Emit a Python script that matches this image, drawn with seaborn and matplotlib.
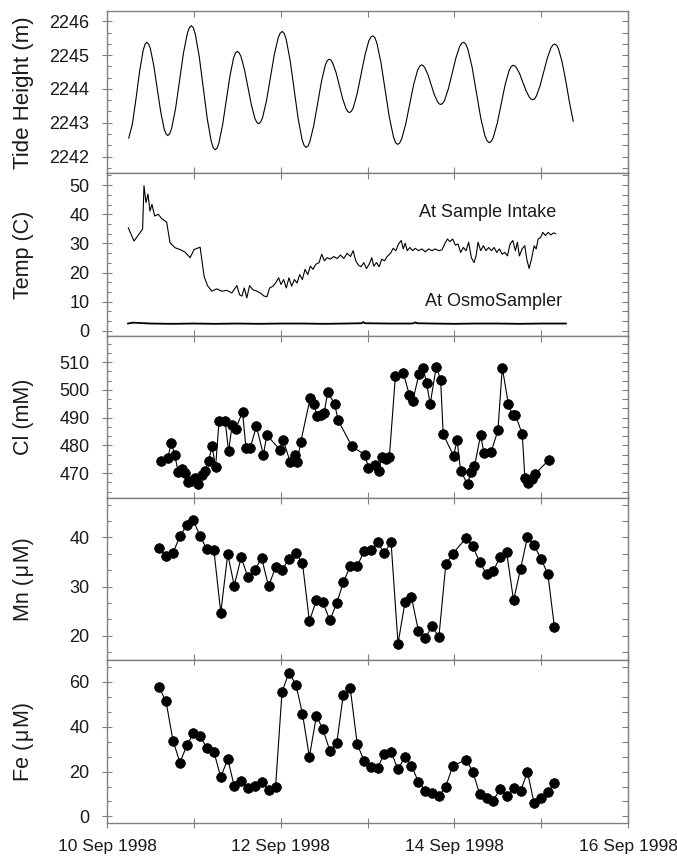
import numpy as np
import pandas as pd
import matplotlib
matplotlib.use("Agg")
import matplotlib.pyplot as plt
import matplotlib.dates as mdates
from matplotlib.ticker import MultipleLocator, AutoMinorLocator, NullFormatter
import seaborn as sns

start = pd.Timestamp("1998-09-10")

# tide height, hours after 10 Sep 00:00
tide_hour = [6.0, 7.0, 8.0, 9.0, 10.0, 10.55, 11.0, 11.48,
             11.97, 12.93, 13.9, 14.87, 15.83, 16.32, 16.8, 17.34,
             17.88, 18.97, 20.05, 21.13, 22.22, 22.76, 23.3, 23.85,
             24.4, 25.5, 26.6, 27.7, 28.8, 29.35, 29.9, 30.41,
             30.92, 31.93, 32.95, 33.97, 34.98, 35.49, 36.0, 36.49,
             36.98, 37.97, 38.95, 39.93, 40.92, 41.41, 41.9, 42.44,
             42.98, 44.07, 45.15, 46.23, 47.32, 47.86, 48.4, 48.95,
             49.5, 50.6, 51.7, 52.8, 53.9, 54.45, 55.0, 55.53,
             56.07, 57.13, 58.2, 59.27, 60.33, 60.87, 61.4, 61.87,
             62.33, 63.27, 64.2, 65.13, 66.07, 66.53, 67.0, 67.53,
             68.07, 69.13, 70.2, 71.27, 72.33, 72.87, 73.4, 73.98,
             74.55, 75.7, 76.85, 78.0, 79.15, 79.73, 80.3, 80.85,
             81.4, 82.5, 83.6, 84.7, 85.8, 86.35, 86.9, 87.34,
             87.78, 88.67, 89.55, 90.43, 91.32, 91.76, 92.2, 92.73,
             93.25, 94.3, 95.35, 96.4, 97.45, 97.98, 98.5, 99.09,
             99.68, 100.87, 102.05, 103.23, 104.42, 105.01, 105.6, 106.15,
             106.7, 107.8, 108.9, 110.0, 111.1, 111.65, 112.2, 112.65,
             113.1, 114.0, 114.9, 115.8, 116.7, 117.15, 117.6, 118.11,
             118.62, 119.63, 120.65, 121.67, 122.68, 123.19, 123.7, 124.28,
             124.7, 125.7, 126.7, 127.7, 128.8]
tide_m = [2242.54, 2242.95, 2243.69, 2244.51, 2245.14, 2245.33, 2245.38, 2245.33,
          2245.20, 2244.69, 2244.00, 2243.31, 2242.80, 2242.67, 2242.62, 2242.68,
          2242.84, 2243.43, 2244.25, 2245.06, 2245.65, 2245.81, 2245.87, 2245.81,
          2245.62, 2244.95, 2244.04, 2243.12, 2242.45, 2242.26, 2242.20, 2242.25,
          2242.40, 2242.93, 2243.66, 2244.38, 2244.92, 2245.06, 2245.11, 2245.07,
          2244.97, 2244.58, 2244.04, 2243.51, 2243.11, 2243.01, 2242.97, 2243.02,
          2243.15, 2243.65, 2244.34, 2245.02, 2245.52, 2245.65, 2245.70, 2245.64,
          2245.47, 2244.84, 2243.99, 2243.13, 2242.50, 2242.33, 2242.27, 2242.31,
          2242.45, 2242.92, 2243.58, 2244.23, 2244.71, 2244.84, 2244.88, 2244.85,
          2244.77, 2244.49, 2244.09, 2243.70, 2243.41, 2243.33, 2243.30, 2243.34,
          2243.45, 2243.87, 2244.44, 2245.00, 2245.42, 2245.53, 2245.57, 2245.52,
          2245.36, 2244.77, 2243.97, 2243.16, 2242.58, 2242.41, 2242.36, 2242.40,
          2242.52, 2242.95, 2243.54, 2244.12, 2244.55, 2244.67, 2244.71, 2244.69,
          2244.63, 2244.42, 2244.13, 2243.83, 2243.62, 2243.56, 2243.54, 2243.57,
          2243.66, 2244.00, 2244.46, 2244.92, 2245.26, 2245.35, 2245.38, 2245.33,
          2245.18, 2244.64, 2243.90, 2243.15, 2242.61, 2242.46, 2242.41, 2242.45,
          2242.56, 2242.98, 2243.56, 2244.13, 2244.55, 2244.66, 2244.70, 2244.68,
          2244.63, 2244.45, 2244.19, 2243.94, 2243.75, 2243.70, 2243.68, 2243.71,
          2243.79, 2244.09, 2244.51, 2244.92, 2245.22, 2245.30, 2245.33, 2245.28,
          2245.19, 2244.81, 2244.26, 2243.64, 2243.04]

# temperature, days after 10 Sep 00:00
temp_day = [0.245, 0.311, 0.38, 0.41, 0.426, 0.449, 0.472, 0.495, 0.518, 0.549,
            0.591, 0.63, 0.668, 0.687, 0.726, 0.784, 0.841, 0.899, 0.957, 1.003,
            1.072, 1.091, 1.118, 1.157, 1.207, 1.264, 1.322, 1.38, 1.437, 1.495,
            1.526, 1.553, 1.58, 1.61, 1.641, 1.68, 1.726, 1.764, 1.81, 1.841,
            1.872, 1.91, 1.941, 1.976, 2.003, 2.034, 2.064, 2.095, 2.126, 2.157,
            2.188, 2.218, 2.249, 2.28, 2.311, 2.341, 2.372, 2.403, 2.441, 2.472,
            2.503, 2.533, 2.572, 2.61, 2.649, 2.687, 2.726, 2.764, 2.803, 2.833,
            2.864, 2.895, 2.925, 2.956, 2.987, 3.017, 3.048, 3.071, 3.102, 3.133,
            3.163, 3.194, 3.225, 3.264, 3.294, 3.325, 3.356, 3.387, 3.41, 3.433,
            3.456, 3.487, 3.518, 3.548, 3.587, 3.625, 3.664, 3.702, 3.741, 3.779,
            3.818, 3.856, 3.887, 3.918, 3.948, 3.979, 4.01, 4.04, 4.071, 4.102,
            4.133, 4.163, 4.194, 4.225, 4.248, 4.271, 4.302, 4.333, 4.363, 4.394,
            4.425, 4.456, 4.486, 4.517, 4.548, 4.579, 4.609, 4.64, 4.671, 4.701,
            4.724, 4.747, 4.778, 4.809, 4.832, 4.859, 4.886, 4.917, 4.94, 4.963,
            4.993, 5.016, 5.047, 5.078, 5.109, 5.139, 5.166]
temp_intake = [35.4, 30.8, 33.7, 34.9, 49.8, 44.0, 46.9, 41.1, 43.4, 39.4,
               40.0, 38.5, 37.7, 37.3, 30.2, 28.5, 27.9, 27.0, 25.1, 27.9,
               28.7, 24.5, 18.7, 15.5, 13.6, 14.4, 13.6, 13.9, 13.0, 15.5,
               12.4, 11.9, 14.7, 11.3, 15.5, 14.1, 13.6, 13.0, 11.9, 11.7,
               14.7, 15.3, 16.4, 18.2, 15.9, 17.6, 14.7, 18.2, 15.3, 17.6,
               16.4, 19.3, 17.6, 21.1, 19.3, 22.2, 21.1, 22.8, 23.4, 26.3,
               24.0, 25.1, 24.6, 25.5, 24.8, 26.0, 24.8, 26.6, 25.5, 27.5,
               24.0, 22.5, 22.0, 23.4, 21.4, 22.8, 25.1, 22.2, 23.4, 22.0,
               24.6, 24.0, 25.5, 26.6, 28.3, 27.5, 29.8, 31.0, 28.1, 30.1,
               27.5, 28.6, 27.5, 28.3, 27.5, 28.1, 27.1, 28.1, 27.5, 28.1,
               27.5, 27.8, 29.8, 31.5, 30.6, 31.5, 29.4, 29.8, 26.9, 28.6,
               27.5, 30.4, 25.1, 23.4, 25.7, 30.4, 27.5, 29.2, 27.5, 28.6,
               27.5, 28.6, 26.9, 28.1, 26.3, 26.9, 25.7, 29.8, 31.0, 27.5,
               30.4, 25.7, 28.1, 29.2, 24.6, 21.4, 24.6, 29.2, 28.1, 31.5,
               32.1, 33.8, 32.7, 33.8, 32.9, 33.6, 33.3]
osmo_day = [0.24, 0.3, 0.5, 0.75, 1.0, 1.25, 1.5, 1.75, 2.0, 2.25, 2.5, 2.75,
            2.93, 2.95, 2.97, 3.25, 3.5, 3.53, 3.55, 3.57, 3.75, 4.0, 4.25,
            4.5, 4.75, 5.0, 5.285]
temp_osmo = [2.5, 2.8, 2.5, 2.4, 2.5, 2.4, 2.5, 2.4, 2.5, 2.5, 2.4, 2.5,
             2.6, 3.0, 2.6, 2.5, 2.5, 2.6, 2.9, 2.6, 2.5, 2.4, 2.5,
             2.5, 2.4, 2.5, 2.5]

# chloride
cl_day = [0.62, 0.70, 0.74, 0.78, 0.82, 0.86, 0.90, 0.93, 0.97, 1.01,
          1.05, 1.09, 1.13, 1.17, 1.21, 1.25, 1.29, 1.36, 1.40, 1.44,
          1.48, 1.56, 1.60, 1.65, 1.72, 1.80, 1.84, 1.99, 2.03, 2.11,
          2.16, 2.19, 2.23, 2.34, 2.38, 2.42, 2.46, 2.50, 2.54, 2.62,
          2.66, 2.82, 2.97, 3.01, 3.08, 3.13, 3.16, 3.21, 3.25, 3.32,
          3.41, 3.48, 3.52, 3.59, 3.64, 3.68, 3.72, 3.79, 3.84, 3.87,
          3.99, 4.03, 4.07, 4.15, 4.19, 4.23, 4.30, 4.34, 4.42, 4.50,
          4.55, 4.62, 4.67, 4.70, 4.78, 4.81, 4.85, 4.89, 4.93, 5.09]
cl_mm = [474.3, 475.4, 480.9, 476.6, 470.4, 471.5, 470.0, 466.8, 467.0, 468.3,
         465.9, 469.2, 470.9, 474.5, 479.7, 472.1, 488.7, 488.9, 477.8, 487.3,
         485.9, 492.0, 479.2, 479.2, 486.9, 476.6, 483.7, 478.5, 481.8, 473.9,
         476.6, 474.1, 481.2, 497.1, 494.9, 490.6, 490.8, 491.8, 499.1, 495.0,
         489.1, 479.6, 476.6, 471.7, 473.1, 470.9, 475.9, 475.1, 475.7, 505.0,
         506.2, 498.2, 496.0, 505.6, 507.9, 502.3, 494.9, 508.3, 503.7, 484.0,
         476.2, 482.0, 470.9, 466.0, 470.4, 472.4, 483.7, 477.2, 477.5, 485.4,
         508.0, 494.9, 490.8, 491.1, 484.0, 468.3, 466.4, 468.0, 469.8, 474.9]

# Mn and Fe share sample times
trace_day = [0.60, 0.68, 0.76, 0.84, 0.92, 0.995, 1.07, 1.15, 1.23, 1.31,
             1.39, 1.465, 1.545, 1.62, 1.70, 1.78, 1.86, 1.94, 2.015, 2.095,
             2.175, 2.25, 2.33, 2.41, 2.485, 2.565, 2.645, 2.72, 2.80, 2.88,
             2.96, 3.035, 3.115, 3.19, 3.27, 3.35, 3.43, 3.505, 3.585, 3.665,
             3.74, 3.82, 3.90, 3.98, 4.135, 4.21, 4.29, 4.37, 4.445, 4.525,
             4.60, 4.68, 4.76, 4.84, 4.915, 4.995, 5.075, 5.15]
mn_um = [37.8, 36.3, 36.9, 40.2, 42.6, 43.5, 40.3, 37.6, 37.5, 24.7,
         36.6, 30.2, 36.0, 32.0, 33.3, 35.8, 30.1, 33.9, 33.3, 35.7,
         36.8, 34.8, 23.0, 27.2, 26.8, 23.2, 26.6, 30.9, 34.1, 34.2,
         37.2, 37.4, 39.0, 36.8, 39.0, 18.4, 26.8, 27.8, 21.0, 19.5,
         22.0, 19.7, 34.5, 36.7, 39.9, 38.2, 35.0, 32.5, 33.1, 36.1,
         37.0, 27.2, 33.6, 40.1, 38.4, 35.7, 32.5, 21.8]
fe_um = [57.5, 51.2, 33.8, 24.0, 31.7, 37.0, 35.8, 30.5, 28.9, 17.5,
         25.6, 13.5, 15.7, 12.6, 13.6, 15.4, 11.7, 12.9, 55.5, 64.1,
         58.7, 45.8, 26.5, 44.8, 38.9, 29.3, 32.8, 54.2, 57.2, 32.3,
         24.7, 21.9, 21.6, 27.8, 28.7, 21.0, 26.5, 22.5, 15.4, 11.5,
         10.6, 9.1, 13.3, 22.5, 25.3, 19.9, 10.0, 8.4, 7.0, 12.3,
         9.3, 12.6, 11.2, 19.9, 6.1, 8.2, 10.9, 14.8]


def to_time(days):
    return start + pd.to_timedelta(np.asarray(days, dtype=float), unit="D")


sns.set_style("ticks")
plt.rcParams["font.family"] = ["Liberation Sans", "DejaVu Sans"]

fig, axes = plt.subplots(5, 1, sharex=True, figsize=(6.77, 8.57), dpi=100)
fig.subplots_adjust(left=0.158, right=0.928, top=0.987, bottom=0.04, hspace=0)

line_kw = dict(color="black", lw=0.8, estimator=None)
dot_kw = dict(color="black", lw=0.8, estimator=None, marker="o", markersize=7,
              markeredgecolor="black", markeredgewidth=0.5)

ax = axes[0]
sns.lineplot(x=to_time(np.array(tide_hour) / 24), y=tide_m, ax=ax, **line_kw)
ax.set_ylim(2241.5, 2246.3)
ax.yaxis.set_major_locator(MultipleLocator(1))
ax.set_ylabel("Tide Height (m)", fontsize=16)

ax = axes[1]
sns.lineplot(x=to_time(temp_day), y=temp_intake, ax=ax, **line_kw)
sns.lineplot(x=to_time(osmo_day), y=temp_osmo, ax=ax, color="black", lw=1.3,
             estimator=None)
ax.set_ylim(-1.7, 54)
ax.yaxis.set_major_locator(MultipleLocator(10))
ax.set_ylabel("Temp (C)", fontsize=15.5)
ax.text(to_time([5.17])[0], 40.6, "At Sample Intake", ha="right", va="center",
        fontsize=13, color="0.1")
ax.text(to_time([5.235])[0], 10, "At OsmoSampler", ha="right", va="center",
        fontsize=13, color="0.1")

ax = axes[2]
sns.lineplot(x=to_time(cl_day), y=cl_mm, ax=ax, **dot_kw)
ax.set_ylim(461, 519.5)
ax.yaxis.set_major_locator(MultipleLocator(10))
ax.set_ylabel("Cl (mM)", fontsize=15.5)

ax = axes[3]
sns.lineplot(x=to_time(trace_day), y=mn_um, ax=ax, **dot_kw)
ax.set_ylim(15, 48)
ax.yaxis.set_major_locator(MultipleLocator(10))
ax.set_ylabel("Mn (\u200a\u03bc\u200aM)", fontsize=15.5)

ax = axes[4]
sns.lineplot(x=to_time(trace_day), y=fe_um, ax=ax, **dot_kw)
ax.set_ylim(-2.8, 69.5)
ax.yaxis.set_major_locator(MultipleLocator(20))
ax.set_ylabel("Fe (\u200a\u03bc\u200aM)", fontsize=15.5)

grey = "0.5"
for i, ax in enumerate(axes):
    for s in ax.spines.values():
        s.set_color(grey)
        s.set_linewidth(1.0)
    ax.yaxis.set_minor_locator(AutoMinorLocator(3))
    ax.tick_params(axis="y", which="major", direction="inout", length=7,
                   width=0.8, color=grey, labelsize=13, pad=9,
                   labelcolor="0.1", right=False)
    ax.tick_params(axis="y", which="minor", direction="in", length=3,
                   width=0.8, color=grey, right=False)
    xdir = "inout" if i == 4 else "in"
    xlen = 7 if i == 4 else 4
    ax.tick_params(axis="x", which="both", direction=xdir, length=xlen,
                   width=0.8, color=grey, top=True, bottom=True,
                   labelsize=12.5, labelcolor="0.1", pad=8)
    ax.tick_params(axis="x", which="minor", labelbottom=False, labeltop=False)
    ax.set_xlabel("")
    ax.xaxis.label.set_visible(False)
    ax.yaxis.label.set_color("0.1")
    ax.yaxis.set_label_coords(-0.14, 0.5)

    sec = ax.secondary_yaxis("right")
    sec.yaxis.set_major_locator(ax.yaxis.get_major_locator())
    sec.yaxis.set_minor_locator(AutoMinorLocator(3))
    sec.tick_params(which="both", direction="in", length=4, width=0.8,
                    color=grey, labelright=False)
    sec.spines["right"].set_color(grey)

axes[4].set_xlim(start, start + pd.Timedelta(days=6))
axes[4].xaxis.set_major_locator(mdates.DayLocator(bymonthday=[10, 12, 14, 16]))
axes[4].xaxis.set_minor_locator(mdates.DayLocator(bymonthday=[11, 13, 15]))
axes[4].xaxis.set_major_formatter(mdates.DateFormatter("%d %b %Y"))
axes[4].xaxis.set_minor_formatter(NullFormatter())

fig.savefig("out.png", dpi=100)
